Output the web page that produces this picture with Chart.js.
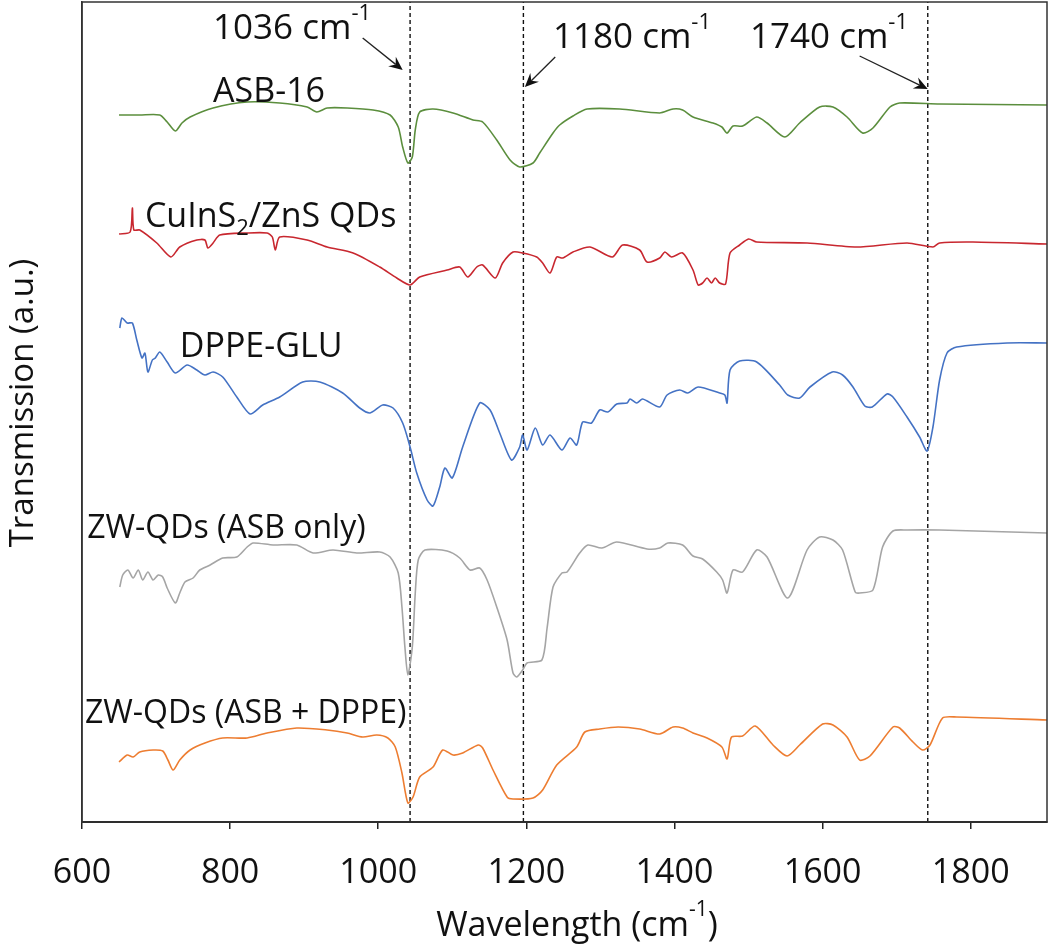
<!DOCTYPE html>
<html>
<head>
<meta charset="utf-8">
<script src="https://cdn.jsdelivr.net/npm/chart.js@4.4.1/dist/chart.umd.min.js"></script>
<style>
  html, body { margin: 0; padding: 0; background: #fff; }
  #wrap { width: 1050px; height: 947px; position: relative; }
</style>
</head>
<body>
<div id="wrap"><canvas id="ftir"></canvas></div>
<script>
// FTIR spectra, offset vertically (a.u.)
const asbWn = [650, 678, 705, 715, 726, 735, 746, 777, 823, 867, 904, 917, 931, 958, 993, 1016, 1027, 1033, 1040, 1046, 1050, 1056, 1074, 1101, 1128, 1141, 1160, 1178, 1191, 1209, 1218, 1236, 1245, 1263, 1282, 1326, 1380, 1398, 1411, 1425, 1452, 1464, 1471, 1479, 1492, 1511, 1525, 1549, 1569, 1596, 1614, 1633, 1654, 1668, 1691, 1704, 1758, 1903];
const asbT  = [70.7, 70.7, 70.7, 70.0, 69.1, 69.9, 70.5, 71.4, 72.0, 71.9, 71.5, 71.0, 71.4, 71.4, 71.2, 70.7, 69.5, 67.5, 65.9, 66.5, 69.2, 71.0, 71.3, 70.9, 70.2, 70.0, 68.2, 66.2, 65.5, 65.9, 66.9, 68.9, 69.7, 70.6, 71.3, 71.3, 70.9, 71.3, 71.2, 70.5, 69.9, 69.5, 68.9, 69.6, 69.6, 70.5, 69.9, 68.5, 69.9, 71.5, 71.5, 70.5, 68.9, 69.4, 71.5, 71.9, 71.8, 71.7];

const qdWn = [650, 665, 668, 670, 678, 701, 720, 732, 755, 766, 770, 777, 786, 823, 850, 857, 861, 867, 904, 931, 966, 1002, 1025, 1043, 1056, 1093, 1110, 1121, 1133, 1141, 1158, 1168, 1182, 1195, 1214, 1222, 1232, 1241, 1249, 1263, 1286, 1316, 1330, 1353, 1363, 1380, 1387, 1396, 1411, 1425, 1432, 1438, 1444, 1450, 1455, 1461, 1469, 1475, 1488, 1500, 1511, 1579, 1646, 1714, 1749, 1758, 1803, 1903];
const qdT  = [58.8, 59.0, 61.4, 59.2, 59.2, 57.9, 56.5, 57.5, 58.2, 58.2, 57.4, 57.9, 58.7, 58.9, 58.9, 58.5, 57.2, 58.5, 58.2, 57.5, 56.9, 55.5, 54.4, 53.7, 54.5, 55.2, 55.5, 54.5, 55.5, 55.7, 54.4, 55.9, 57.0, 56.9, 56.5, 55.9, 54.9, 56.5, 56.4, 57.0, 57.5, 56.5, 57.7, 57.2, 56.0, 56.4, 57.0, 56.5, 56.9, 55.2, 53.7, 53.9, 54.4, 53.9, 54.4, 53.9, 53.8, 56.9, 57.7, 58.3, 58.0, 57.9, 57.5, 57.9, 57.5, 57.9, 58.0, 57.8];

const dppeWn = [651, 654, 661, 668, 674, 681, 685, 689, 695, 699, 705, 715, 726, 742, 755, 766, 777, 790, 809, 827, 844, 867, 898, 921, 952, 975, 989, 1006, 1020, 1033, 1043, 1052, 1066, 1074, 1083, 1090, 1100, 1114, 1137, 1151, 1164, 1180, 1191, 1195, 1201, 1212, 1222, 1232, 1248, 1259, 1268, 1276, 1288, 1299, 1310, 1322, 1336, 1340, 1349, 1357, 1380, 1390, 1407, 1418, 1432, 1461, 1468, 1471, 1475, 1488, 1511, 1542, 1553, 1569, 1583, 1613, 1627, 1641, 1657, 1667, 1687, 1695, 1714, 1731, 1741, 1749, 1758, 1768, 1781, 1849, 1903];
const dppeT  = [49.4, 50.4, 49.9, 49.9, 48.2, 46.4, 46.9, 45.0, 46.2, 46.4, 47.0, 46.0, 44.9, 45.7, 45.2, 44.7, 45.0, 44.5, 42.5, 40.8, 41.7, 42.5, 44.0, 44.0, 42.9, 41.4, 40.9, 41.7, 41.4, 39.9, 37.5, 34.9, 32.2, 31.6, 33.5, 35.4, 34.4, 37.5, 41.9, 41.2, 38.9, 36.2, 37.5, 38.7, 37.2, 39.4, 37.7, 38.7, 37.2, 38.4, 37.7, 40.0, 39.9, 41.2, 41.0, 41.8, 41.9, 42.3, 41.9, 42.3, 41.5, 42.7, 43.2, 42.9, 43.5, 42.9, 42.7, 41.9, 45.2, 46.1, 46.0, 43.7, 42.7, 42.4, 43.5, 45.0, 44.7, 43.5, 41.6, 41.5, 42.8, 42.5, 40.5, 38.5, 37.1, 39.5, 44.2, 46.9, 47.5, 47.9, 47.9];

const zwAsbWn = [651, 655, 662, 669, 676, 682, 689, 696, 703, 709, 715, 726, 732, 739, 750, 759, 773, 790, 809, 823, 831, 858, 890, 912, 939, 971, 1002, 1016, 1027, 1032, 1036, 1040, 1046, 1050, 1054, 1063, 1093, 1110, 1124, 1137, 1147, 1160, 1174, 1182, 1187, 1195, 1201, 1221, 1228, 1236, 1248, 1255, 1272, 1283, 1302, 1322, 1363, 1380, 1391, 1411, 1425, 1438, 1457, 1465, 1471, 1479, 1492, 1511, 1525, 1553, 1579, 1596, 1614, 1627, 1644, 1650, 1668, 1681, 1695, 1714, 1758, 1903];
const zwAsbT  = [23.5, 24.7, 25.2, 24.4, 25.2, 24.2, 25.0, 24.2, 24.7, 24.5, 23.4, 21.9, 22.9, 24.0, 24.4, 25.2, 25.7, 26.4, 26.5, 27.5, 27.9, 27.7, 27.7, 26.9, 27.2, 26.9, 27.0, 26.5, 24.9, 21.5, 17.5, 14.7, 17.5, 22.9, 26.2, 27.2, 27.1, 26.4, 25.2, 25.4, 24.2, 21.5, 18.2, 14.9, 14.5, 15.2, 15.9, 16.2, 19.4, 23.5, 24.9, 25.0, 26.9, 27.7, 27.4, 28.0, 27.3, 27.4, 27.9, 27.7, 26.6, 26.3, 25.0, 24.2, 22.9, 25.2, 25.0, 27.2, 26.5, 22.4, 27.2, 28.5, 28.2, 27.2, 23.0, 22.9, 23.2, 27.5, 29.1, 29.2, 29.2, 28.9];

const zwMixWn = [650, 661, 669, 678, 696, 709, 716, 723, 732, 746, 766, 790, 823, 850, 890, 931, 958, 979, 998, 1013, 1023, 1032, 1040, 1047, 1056, 1074, 1087, 1101, 1114, 1135, 1141, 1155, 1174, 1182, 1209, 1222, 1241, 1268, 1279, 1299, 1324, 1353, 1380, 1398, 1411, 1425, 1444, 1464, 1471, 1477, 1492, 1509, 1533, 1552, 1569, 1600, 1614, 1633, 1650, 1664, 1695, 1704, 1722, 1735, 1745, 1762, 1781, 1903];
const zwMixT  = [6.0, 6.7, 6.5, 7.0, 7.2, 7.1, 6.2, 5.2, 6.2, 7.2, 7.9, 8.4, 8.4, 8.9, 9.4, 9.2, 8.9, 8.5, 8.7, 8.4, 7.5, 4.9, 1.9, 2.5, 4.5, 5.5, 7.2, 6.7, 6.9, 7.7, 7.4, 5.2, 2.5, 2.3, 2.4, 3.2, 5.7, 7.5, 9.0, 9.3, 9.5, 9.3, 8.8, 9.5, 9.4, 8.9, 8.4, 7.5, 6.3, 8.5, 8.6, 9.6, 7.7, 6.6, 7.7, 9.8, 9.7, 8.5, 6.2, 6.6, 9.5, 9.4, 8.0, 7.2, 7.7, 10.4, 10.5, 10.2];

// peak guide lines and their callouts
const peakWn = [1043, 1196, 1742];
const peakText = ['1036 cm', '1180 cm', '1740 cm'];
const peakTextAt = [[777, 78.3], [1236, 77.4], [1502, 77.4]];
const arrowFrom = [[979, 78.4], [1239, 76.5], [1650, 76.6]];
const arrowTo = [[1033, 75.2], [1198, 73.5], [1742, 73.3]];

// series name labels (left edge, baseline)
const nameAt = [[777, 72.0], [685, 59.5], [732, 46.5], [607, 28.4], [604, 9.9]];

const FONT = '"Open Sans", "Noto Sans", sans-serif';

function pts(xs, ys) {
  return xs.map((x, i) => ({ x: x, y: ys[i] }));
}

function spectrum(label, xs, ys, color) {
  return {
    label: label,
    data: pts(xs, ys),
    borderColor: color,
    borderWidth: 1.6,
    pointRadius: 0,
    tension: 0.25,
    fill: false
  };
}

const datasets = [
  spectrum('ASB-16', asbWn, asbT, '#5B8E3D'),
  spectrum('CuInS2/ZnS QDs', qdWn, qdT, '#C8272F'),
  spectrum('DPPE-GLU', dppeWn, dppeT, '#4472C4'),
  spectrum('ZW-QDs (ASB only)', zwAsbWn, zwAsbT, '#A5A5A5'),
  spectrum('ZW-QDs (ASB + DPPE)', zwMixWn, zwMixT, '#ED7D31')
];
peakWn.forEach(function(wn) {
  datasets.push({
    label: 'peak ' + wn,
    data: [{ x: wn, y: 0 }, { x: wn, y: 82 }],
    borderColor: '#111',
    borderWidth: 1.4,
    borderDash: [4, 3],
    pointRadius: 0
  });
});

// draw a run of text pieces (for super/subscripts)
function drawParts(ctx, x, y, parts) {
  let cx = x;
  parts.forEach(function(p) {
    ctx.font = p.size + 'px ' + FONT;
    ctx.fillText(p.t, cx, y + (p.dy || 0));
    cx += ctx.measureText(p.t).width;
  });
  return cx - x;
}

function arrow(ctx, x1, y1, x2, y2) {
  const a = Math.atan2(y2 - y1, x2 - x1);
  const len = 15, spread = 0.42, notch = 9;
  ctx.beginPath();
  ctx.moveTo(x1, y1);
  ctx.lineTo(x2 - Math.cos(a) * notch, y2 - Math.sin(a) * notch);
  ctx.stroke();
  ctx.beginPath();
  ctx.moveTo(x2, y2);
  ctx.lineTo(x2 - len * Math.cos(a - spread), y2 - len * Math.sin(a - spread));
  ctx.lineTo(x2 - notch * Math.cos(a), y2 - notch * Math.sin(a));
  ctx.lineTo(x2 - len * Math.cos(a + spread), y2 - len * Math.sin(a + spread));
  ctx.closePath();
  ctx.fill();
}

const annotations = {
  id: 'annotations',
  afterDatasetsDraw: function(chart) {
    const ctx = chart.ctx;
    const xs = chart.scales.x, ys = chart.scales.y;
    const area = chart.chartArea;
    const px = v => xs.getPixelForValue(v);
    const py = v => ys.getPixelForValue(v);

    ctx.save();
    // plot frame
    ctx.strokeStyle = '#333';
    ctx.lineWidth = 1.5;
    ctx.strokeRect(area.left, area.top, area.right - area.left, area.bottom - area.top);

    ctx.fillStyle = '#111';
    ctx.textBaseline = 'alphabetic';
    ctx.textAlign = 'left';

    // callouts
    peakText.forEach(function(t, i) {
      drawParts(ctx, px(peakTextAt[i][0]), py(peakTextAt[i][1]), [
        { t: t, size: 35 },
        { t: '-1', size: 22, dy: -19 }
      ]);
      ctx.strokeStyle = '#222';
      ctx.lineWidth = 1.3;
      ctx.fillStyle = '#111';
      arrow(ctx, px(arrowFrom[i][0]), py(arrowFrom[i][1]), px(arrowTo[i][0]), py(arrowTo[i][1]));
    });

    // series names
    const names = [
      [{ t: 'ASB-16', size: 34 }],
      [{ t: 'CuInS', size: 34 }, { t: '2', size: 22, dy: 8 }, { t: '/ZnS QDs', size: 34 }],
      [{ t: 'DPPE-GLU', size: 34 }],
      [{ t: 'ZW-QDs (ASB only)', size: 32 }],
      [{ t: 'ZW-QDs (ASB + DPPE)', size: 32 }]
    ];
    names.forEach(function(parts, i) {
      drawParts(ctx, px(nameAt[i][0]), py(nameAt[i][1]), parts);
    });
    ctx.restore();
  },
  afterDraw: function(chart) {
    const ctx = chart.ctx;
    ctx.save();
    ctx.fillStyle = '#111';
    ctx.textBaseline = 'alphabetic';
    ctx.textAlign = 'left';
    // x title, centred
    const xParts = [
      { t: 'Wavelength (cm', size: 34 },
      { t: '-1', size: 21, dy: -20 },
      { t: ')', size: 34 }
    ];
    ctx.globalAlpha = 0;
    const w = drawParts(ctx, 0, 0, xParts);
    ctx.globalAlpha = 1;
    drawParts(ctx, 577 - w / 2, 936, xParts);
    // y title, rotated
    ctx.translate(33, 403);
    ctx.rotate(-Math.PI / 2);
    ctx.textAlign = 'center';
    ctx.font = '33px ' + FONT;
    ctx.fillText('Transmission (a.u.)', 0, 0);
    ctx.restore();
  }
};

new Chart(document.getElementById('ftir'), {
  type: 'line',
  data: { datasets: datasets },
  options: {
    responsive: true,
    maintainAspectRatio: false,
    animation: false,
    layout: { padding: { top: 2, right: 3, left: 0, bottom: 0 } },
    plugins: {
      legend: { display: false },
      tooltip: { enabled: false }
    },
    scales: {
      x: {
        type: 'linear',
        min: 600,
        max: 1903,
        ticks: {
          stepSize: 200,
          includeBounds: false,
          color: '#111',
          padding: 24,
          maxRotation: 0,
          font: { family: FONT, size: 34 },
          callback: function(v) { return String(v); }
        },
        grid: {
          drawOnChartArea: false,
          drawTicks: true,
          tickLength: 7,
          color: '#222',
          lineWidth: 1.5
        },
        border: { display: true, color: '#222', width: 2 },
        afterFit: function(s) { s.height = 125; }
      },
      y: {
        min: 0,
        max: 82,
        ticks: { display: false },
        grid: { display: false },
        border: { display: true, color: '#333', width: 1.5 },
        afterFit: function(s) { s.width = 82; }
      }
    }
  },
  plugins: [annotations]
});
</script>
</body>
</html>
